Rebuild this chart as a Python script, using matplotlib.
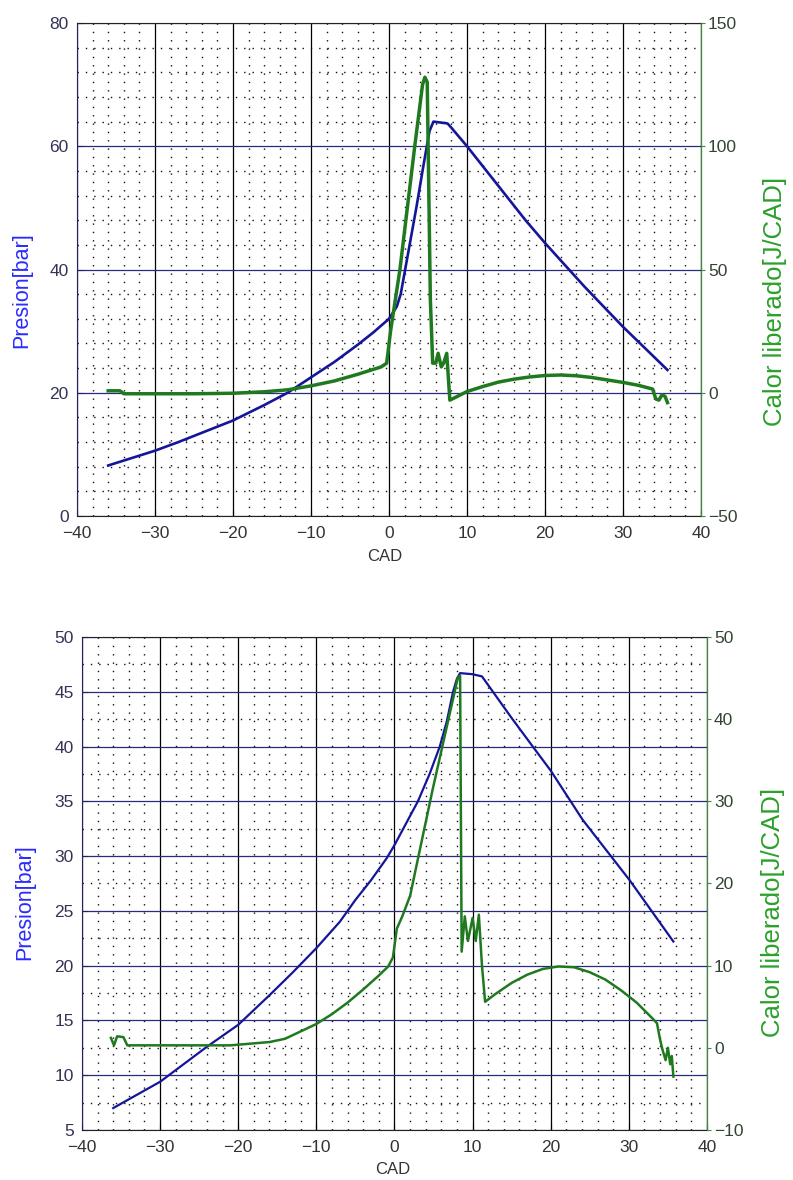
import matplotlib
matplotlib.use("Agg")
import matplotlib.pyplot as plt
from matplotlib.ticker import MultipleLocator

plt.rcParams['font.family'] = ['Liberation Sans', 'DejaVu Sans']

# ---------------- data: top chart ----------------
cad_p1 = [-36, -33, -30, -27, -24, -20, -16, -13, -10, -7, -4, -2, 0, 1, 1.5,
          2.5, 3.5, 4.5, 5.2, 5.7, 7.5, 8, 10, 12.5, 15, 17.5, 20, 25, 30, 35.7]
pres1 = [8.2, 9.4, 10.6, 12.0, 13.5, 15.5, 18.0, 20.0, 22.5, 25.0, 27.8, 29.8, 32.0, 34.0, 36.0,
         43.0, 50.0, 57.5, 62.5, 64.0, 63.7, 63.0, 60.0, 56.0, 52.0, 48.0, 44.3, 37.3, 30.7, 23.7]

cad_q1 = [-36, -34.5, -34, -25, -20, -16, -13, -10, -7, -4, -1, -0.3, 0.2, 1.4, 3.3,
          4.3, 4.6, 4.9, 5.3, 5.6, 6.0, 6.3, 6.7, 7.0, 7.4, 7.8, 10, 12, 14, 16, 18, 20,
          22, 24, 26, 28, 30, 32, 33.8, 34.2, 34.6, 35.0, 35.4, 35.7]
heat1 = [0.8, 0.8, -0.4, -0.4, -0.2, 0.4, 1.2, 2.8, 4.8, 7.5, 10.5, 12.0, 25.0, 50.0, 100.0,
         125.0, 128.0, 126.0, 38.0, 12.0, 12.0, 16.0, 10.5, 12.0, 16.0, -3.0, 0.5, 2.5, 4.3, 5.5, 6.4, 7.0,
         7.2, 6.9, 6.2, 5.2, 4.2, 3.0, 1.5, -2.5, -3.0, -0.8, -1.5, -4.0]

# ---------------- data: bottom chart ----------------
cad_p2 = [-36, -33, -30, -27, -24, -20, -16, -13, -10, -7, -5, -3, -1, 0, 1.5, 3.0,
          4.5, 5.8, 6.7, 7.5, 8.0, 8.4, 10, 11.2, 15, 17.7, 20, 24.1, 30.1, 35.7]
pres2 = [7.0, 8.2, 9.4, 11.0, 12.6, 14.6, 17.3, 19.4, 21.6, 24.0, 26.0, 27.8, 29.8, 31.0, 33.0, 35.0,
         37.5, 40.0, 42.3, 45.0, 46.2, 46.7, 46.6, 46.4, 42.6, 40.0, 37.8, 33.3, 27.8, 22.2]

cad_q2 = [-36.3, -35.9, -35.5, -34.7, -34.2, -30, -25, -21, -16, -14, -12, -10, -8, -6, -4, -2,
          -0.8, -0.2, 0.3, 1.0, 2.0, 4.9, 8.1, 8.4, 8.6, 9.0, 9.4, 10.0, 10.4, 10.8, 11.2, 11.6,
          13, 15, 17, 19, 21, 23, 25, 27, 29, 31, 33, 33.6, 34.0, 34.3, 34.7, 35.0, 35.3, 35.5, 35.7]
heat2 = [1.2, 0.3, 1.4, 1.3, 0.3, 0.3, 0.3, 0.3, 0.7, 1.1, 2.0, 2.9, 4.1, 5.5, 7.1, 8.8,
         9.9, 11.0, 14.5, 16.0, 18.5, 31.5, 45.0, 45.3, 11.7, 16.0, 13.0, 15.8, 13.0, 16.2, 10.0, 5.6,
         6.6, 7.9, 8.9, 9.6, 9.9, 9.8, 9.2, 8.3, 7.0, 5.5, 3.6, 3.0, 1.0, -0.2, -1.5, 0.0, -2.0, -1.0, -3.5]

xticks = [-40, -30, -20, -10, 0, 10, 20, 30, 40]

BLUE = '#15159a'
GREEN = '#1f7a1f'
NAVY_GRID = '#2a2a80'
DOT = (0, (1, 5))


def style_axes(ax, ax2, ylim, ymajor, yminor, y2lim, y2major):
    ax.set_xlim(-40, 40)
    ax.set_ylim(*ylim)
    ax.set_xticks(xticks)
    ax.yaxis.set_major_locator(MultipleLocator(ymajor))
    ax.xaxis.set_minor_locator(MultipleLocator(2))
    ax.yaxis.set_minor_locator(MultipleLocator(yminor))
    ax.xaxis.grid(True, which='major', color='black', lw=0.9, ls='-')
    ax.yaxis.grid(True, which='major', color=NAVY_GRID, lw=0.9, ls='-')
    ax.grid(True, which='minor', color='#111111', lw=1.0, ls=DOT)
    ax.set_axisbelow(True)
    ax.tick_params(which='minor', length=0)
    ax.tick_params(axis='x', which='major', direction='in', length=4, pad=7,
                   labelsize=12.5, labelcolor='#333333')
    ax.tick_params(axis='y', which='major', direction='in', length=4, pad=6,
                   labelsize=12.5, labelcolor='#333355', color='#222266')
    ax.spines['left'].set_color('#222266')
    ax.spines['top'].set_color('#222222')
    ax.spines['bottom'].set_color('#222222')
    ax2.set_ylim(*y2lim)
    ax2.yaxis.set_major_locator(MultipleLocator(y2major))
    ax2.tick_params(axis='y', direction='out', length=3, pad=2, labelsize=12.5,
                    labelcolor='#334433', color='#3a8a3a')
    ax2.spines['right'].set_color('#3a8a3a')
    for s in ['left', 'top', 'bottom']:
        ax2.spines[s].set_visible(False)


fig = plt.figure(figsize=(7.93, 11.8), dpi=100)

# ---- top chart ----
ax1 = fig.add_axes([0.0971, 0.5627, 0.7869, 0.4178])
ax1b = ax1.twinx()
style_axes(ax1, ax1b, (0, 80), 20, 4, (-50, 150), 50)
ax1.plot(cad_p1, pres1, color=BLUE, lw=1.9)
ax1b.plot(cad_q1, heat1, color=GREEN, lw=2.5)

# ---- bottom chart ----
ax2 = fig.add_axes([0.1034, 0.0424, 0.7881, 0.4178])
ax2b = ax2.twinx()
style_axes(ax2, ax2b, (5, 50), 5, 2.5, (-10, 50), 10)
ax2.plot(cad_p2, pres2, color=BLUE, lw=1.6)
ax2b.plot(cad_q2, heat2, color=GREEN, lw=1.8)

# ---- labels ----
lab_blue = '#2b2bff'
lab_green = '#2aa02a'
fig.text(0.0277, 0.7542, 'Presion[bar]', rotation=90, ha='center', va='center',
         fontsize=15.5, color=lab_blue)
fig.text(0.9773, 0.7449, 'Calor liberado[J/CAD]', rotation=90, ha='center', va='center',
         fontsize=18.5, color=lab_green)
fig.text(0.4855, 0.5288, 'CAD', ha='center', va='center', fontsize=12, color='#333333')

fig.text(0.0315, 0.2356, 'Presion[bar]', rotation=90, ha='center', va='center',
         fontsize=15.5, color=lab_blue)
fig.text(0.9748, 0.2271, 'Calor liberado[J/CAD]', rotation=90, ha='center', va='center',
         fontsize=18.5, color=lab_green)
fig.text(0.4956, 0.0085, 'CAD', ha='center', va='center', fontsize=12, color='#333333')

fig.savefig('out.png', dpi=100, facecolor='white')
